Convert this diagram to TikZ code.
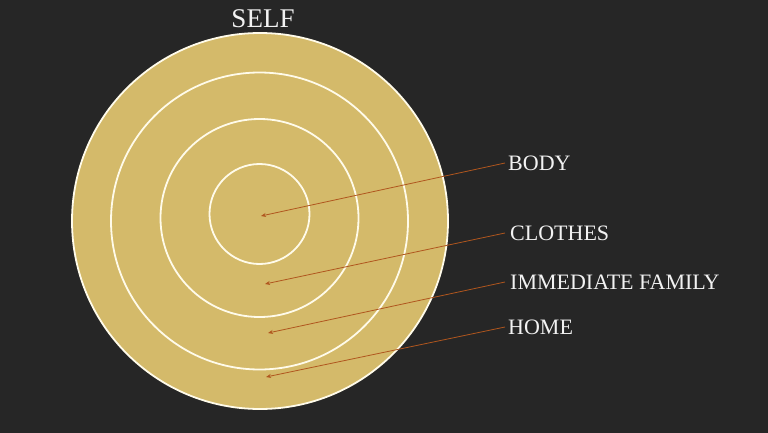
\documentclass[tikz,border=0pt]{standalone}
\usepackage{fontspec}
\setmainfont{Liberation Serif}
\usetikzlibrary{arrows.meta}
\definecolor{bg}{HTML}{262626}
\definecolor{gold}{HTML}{D4BA6A}
\definecolor{ptr}{HTML}{B0561E}
\definecolor{txt}{HTML}{F2F2F2}
\definecolor{ringc}{HTML}{FFFBEA}
\begin{document}
\begin{tikzpicture}[x=1pt,y=-1pt,
  ring/.style={draw=ringc,line width=1.8pt},
  lbl/.style={anchor=west,inner sep=0pt,text=txt,font=\fontsize{22}{22}\selectfont},
  pointer/.style={draw=ptr,line width=0.8pt,-{Stealth[length=5pt,width=4pt]}}]
\fill[bg] (0,0) rectangle (768,433);
\useasboundingbox (0,0) rectangle (768,433);
\fill[gold] (260,221) circle[radius=188];
\draw[ring] (260,221) circle[radius=188];
\draw[ring] (259.5,221) circle[radius=148.5];
\draw[ring] (259.5,218) circle[radius=99];
\draw[ring] (259.5,214) circle[radius=50];
\node[inner sep=0pt,text=txt,font=\fontsize{27}{27}\selectfont] (self) at (263,19) {SELF};
\node[lbl] (body) at (508,163) {BODY};
\node[lbl] (clothes) at (510,233) {CLOTHES};
\node[lbl] (family) at (510,282) {IMMEDIATE FAMILY};
\node[lbl] (home) at (508,327) {HOME};
\coordinate (pb) at (261,216);
\coordinate (pc) at (265,284);
\coordinate (pf) at (268,333);
\coordinate (ph) at (266,377);
\draw[pointer] ([xshift=-3pt]body.west) -- (pb);
\draw[pointer] ([xshift=-5pt]clothes.west) -- (pc);
\draw[pointer] ([xshift=-5pt]family.west) -- (pf);
\draw[pointer] ([xshift=-3pt]home.west) -- (ph);
\end{tikzpicture}
\end{document}
